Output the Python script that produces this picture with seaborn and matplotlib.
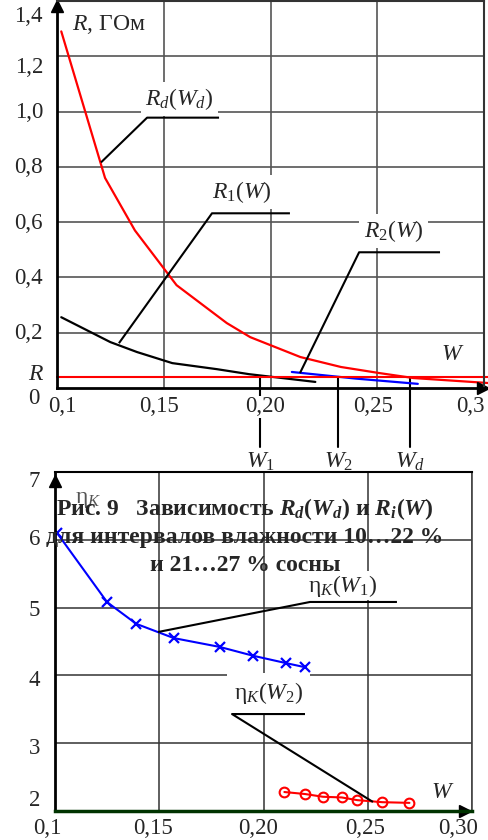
import matplotlib
matplotlib.use("Agg")
import matplotlib.pyplot as plt
import seaborn as sns
import pandas as pd
from matplotlib.transforms import ScaledTranslation

# ---------------- data: top chart (R, GOhm vs W) ----------------
rd_w = [0.102, 0.1225, 0.1365, 0.156, 0.1795, 0.1905, 0.214, 0.233, 0.251, 0.267, 0.302]
rd_r = [1.29, 0.76, 0.57, 0.372, 0.235, 0.184, 0.112, 0.076, 0.054, 0.036, 0.018]
r1_w = [0.102, 0.125, 0.1375, 0.154, 0.175, 0.19, 0.221]
r1_r = [0.256, 0.166, 0.130, 0.090, 0.068, 0.050, 0.022]
r2_w = [0.210, 0.240, 0.269]
r2_r = [0.058, 0.034, 0.015]
r_level = 0.04
w_marks = [0.1953, 0.2317, 0.2655]
w_mark_labels = ["$W_1$", "$W_2$", "$W_d$"]
top_xticks = [0.10, 0.15, 0.20, 0.25, 0.30]
top_xlabels = ["0,1", "0,15", "0,20", "0,25", "0,3"]
top_yticks = [0.2, 0.4, 0.6, 0.8, 1.0, 1.2, 1.4]
top_ylabels = ["0,2", "0,4", "0,6", "0,8", "1,0", "1,2", "1,4"]

# ---------------- data: bottom chart (eta_K vs W) ----------------
eta1_w = [0.101, 0.125, 0.139, 0.157, 0.179, 0.195, 0.211, 0.220]
eta1 = [6.10, 5.08, 4.76, 4.55, 4.42, 4.29, 4.18, 4.12]
eta2_w = [0.210, 0.220, 0.2285, 0.2375, 0.245, 0.257, 0.270]
eta2 = [2.28, 2.25, 2.21, 2.20, 2.16, 2.13, 2.12]
bot_xticks = [0.10, 0.15, 0.20, 0.25, 0.30]
bot_xlabels = ["0,1", "0,15", "0,20", "0,25", "0,30"]
bot_yticks = [2, 3, 4, 5, 6, 7]
bot_ylabels = ["2", "3", "4", "5", "6", "7"]

title_lines = [
    r"Рис. 9   Зависимость $\mathbfit{R}_\mathbfit{d}\mathbf{(}\mathbfit{W}_\mathbfit{d}\mathbf{)}$ и $\mathbfit{R}_\mathbfit{i}\mathbf{(}\mathbfit{W}\mathbf{)}$",
    "для интервалов влажности 10…22 %",
    "и 21…27 % сосны",
]

sns.set_theme(style="white")
plt.rcParams["font.family"] = ["Liberation Serif", "DejaVu Serif"]
plt.rcParams["mathtext.fontset"] = "custom"
plt.rcParams["mathtext.rm"] = "Liberation Serif"
plt.rcParams["mathtext.it"] = "Liberation Serif:italic"
plt.rcParams["mathtext.bf"] = "Liberation Serif:bold"
plt.rcParams["mathtext.bfit"] = "Liberation Serif:italic:bold"

DPI = 100
fig = plt.figure(figsize=(4.88, 8.40), dpi=DPI)
FW, FH = 488.0, 840.0


def off(dx, dy):
    return ScaledTranslation(dx / DPI, -dy / DPI, fig.dpi_scale_trans)


TICK_FS = 16.5
LAB_FS = 17
TITLE_FS = 17

# ================= TOP CHART =================
ax1 = fig.add_axes([57 / FW, 1 - 388 / FH, 427 / FW, 387 / FH])
ax1.set_xlim(0.1, 0.3)
ax1.set_ylim(0, 1.4)
ax1.set_xticks(top_xticks)
ax1.set_yticks(top_yticks)
ax1.tick_params(length=0, labelleft=False, labelbottom=False)
ax1.grid(True, color="#555555", lw=1.2)
ax1.set_axisbelow(True)
for s in ["left", "bottom"]:
    ax1.spines[s].set_color("black")
    ax1.spines[s].set_linewidth(2.0)
for s in ["top", "right"]:
    ax1.spines[s].set_color("#333333")
    ax1.spines[s].set_linewidth(1.5)

df_rd = pd.DataFrame({"W": rd_w, "R": rd_r})
df_r1 = pd.DataFrame({"W": r1_w, "R": r1_r})
df_r2 = pd.DataFrame({"W": r2_w, "R": r2_r})
sns.lineplot(data=df_rd, x="W", y="R", ax=ax1, color="#ff0000", lw=1.6, clip_on=False)
sns.lineplot(data=df_r1, x="W", y="R", ax=ax1, color="black", lw=1.6)
sns.lineplot(data=df_r2, x="W", y="R", ax=ax1, color="#0000ff", lw=1.6)
ax1.plot([0.1, 0.302], [r_level, r_level], color="#ff0000", lw=1.5, clip_on=False)
ax1.set_xlabel("")
ax1.set_ylabel("")

# tick labels
ydy = {1.4: 16, 1.2: 11}
for v, lab in zip(top_yticks, top_ylabels):
    ax1.text(0, v, lab, transform=ax1.get_yaxis_transform() + off(-14, ydy.get(v, 1)),
             ha="right", va="center", fontsize=TICK_FS)
xdx = [5, -5, -5, -4, -14]
for v, lab, dx in zip(top_xticks, top_xlabels, xdx):
    ax1.text(v, 0, lab, transform=ax1.get_xaxis_transform() + off(dx, 19),
             ha="center", va="center", fontsize=TICK_FS,
             bbox=dict(facecolor="white", edgecolor="none", pad=0.5))
ax1.text(0, 0, "$R$", transform=ax1.transAxes + off(-21, -13), ha="center", va="center", fontsize=LAB_FS)
ax1.text(0, 0, "0", transform=ax1.transAxes + off(-23, 10), ha="center", va="center", fontsize=TICK_FS)
ax1.text(0.035, 1, "$R$, ГОм", transform=ax1.transAxes + off(0, 24), ha="left", va="center",
         fontsize=LAB_FS, bbox=dict(facecolor="white", edgecolor="none", pad=2))
ax1.text(1, 0, "$W$", transform=ax1.transAxes + off(-31, -34), ha="center", va="center", fontsize=LAB_FS)

# arrows
ax1.plot([0], [1], marker="^", ms=8, color="black", transform=ax1.transAxes + off(0, 5), clip_on=False)
ax1.plot([1], [0], marker=">", ms=8, color="black", transform=ax1.transAxes + off(-1.5, 0), clip_on=False)

# leader lines + labels
lk = dict(color="black", lw=1.5, clip_on=False, solid_capstyle="butt")
ax1.plot([0.1759, 0.1422, 0.1206], [0.978, 0.978, 0.816], **lk)
ax1.plot([0.2091, 0.1726, 0.129], [0.632, 0.632, 0.162], **lk)
ax1.plot([0.2794, 0.2415, 0.2138], [0.491, 0.491, 0.054], **lk)
bb = dict(facecolor="white", edgecolor="none", pad=3)
ax1.text(0.1575, 1.045, r"$R_d(W_d)$", ha="center", va="center", fontsize=LAB_FS, bbox=bb)
ax1.text(0.1865, 0.71, r"$R_1(W)$", ha="center", va="center", fontsize=LAB_FS, bbox=bb)
ax1.text(0.2576, 0.568, r"$R_2(W)$", ha="center", va="center", fontsize=LAB_FS, bbox=bb)

# W marks below the axis
for w, lab in zip(w_marks, w_mark_labels):
    ax1.plot([w, w], [0.04, -0.213], color="black", lw=1.5, clip_on=False, zorder=1)
    ax1.text(w, -0.267, lab, ha="center", va="center", fontsize=LAB_FS)

# ================= BOTTOM CHART =================
ax2 = fig.add_axes([55 / FW, 1 - 811 / FH, 417 / FW, 339 / FH])
ax2.set_xlim(0.1, 0.3)
ax2.set_ylim(2, 7)
ax2.set_xticks(bot_xticks)
ax2.set_yticks(bot_yticks)
ax2.tick_params(length=0, labelleft=False, labelbottom=False)
ax2.grid(True, color="#333333", lw=1.1)
ax2.set_axisbelow(True)
ax2.spines["left"].set_color("black")
ax2.spines["left"].set_linewidth(2.0)
ax2.spines["bottom"].set_color("#003300")
ax2.spines["bottom"].set_linewidth(2.5)
ax2.spines["top"].set_color("black")
ax2.spines["top"].set_linewidth(1.5)
ax2.spines["right"].set_color("#444444")
ax2.spines["right"].set_linewidth(1.2)

df_e1 = pd.DataFrame({"W": eta1_w, "eta": eta1})
df_e2 = pd.DataFrame({"W": eta2_w, "eta": eta2})
sns.lineplot(data=df_e1, x="W", y="eta", ax=ax2, color="#0000ff", lw=1.5,
             marker="x", ms=7, mew=1.6, mec="#0000ff")
sns.lineplot(data=df_e2, x="W", y="eta", ax=ax2, color="#ff0000", lw=1.5,
             marker="o", ms=7, mew=1.5, mfc="none", mec="#ff0000")
ax2.set_xlabel("")
ax2.set_ylabel("")

ydy2 = {7: 9, 6: 0, 5: 3, 4: 5, 3: 5, 2: -11}
for v, lab in zip(bot_yticks, bot_ylabels):
    ax2.text(0, v, lab, transform=ax2.get_yaxis_transform() + off(-15, ydy2[v]),
             ha="right", va="center", fontsize=TICK_FS)
xdx2 = [-8, -6, -5, -3, -14]
for v, lab, dx in zip(bot_xticks, bot_xlabels, xdx2):
    ax2.text(v, 0, lab, transform=ax2.get_xaxis_transform() + off(dx, 17),
             ha="center", va="center", fontsize=TICK_FS)

ax2.plot([0], [1], marker="^", ms=8, color="black", transform=ax2.transAxes + off(0, 8.5), clip_on=False)
ax2.plot([1], [0], marker=">", ms=8, color="black", transform=ax2.transAxes + off(-7.5, 0), clip_on=False)

ax2.text(1, 0, "$W$", transform=ax2.transAxes + off(-29, -19), ha="center", va="center", fontsize=LAB_FS)
ax2.text(0, 1, r"$\mathrm{η}_K$", transform=ax2.transAxes + off(33, 28), ha="center", va="center",
         fontsize=LAB_FS, color="#555555")

ax2.plot([0.264, 0.2223, 0.1494], [5.083, 5.083, 4.64], **lk)
ax2.plot([0.2199, 0.1849, 0.2525], [3.43, 3.43, 2.133], **lk)
ax2.text(0.2381, 5.32, r"$\mathrm{η}_K(W_1)$", ha="center", va="center", fontsize=LAB_FS,
         bbox=dict(facecolor="white", edgecolor="none", pad=1.0))
ax2.text(0.2025, 3.74, r"$\mathrm{η}_K(W_2)$", ha="center", va="center", fontsize=LAB_FS,
         bbox=dict(facecolor="white", edgecolor="none", pad=5))

# caption overlaid on the bottom chart
baselines = [515, 543, 571]
for txt, yb in zip(title_lines, baselines):
    fig.text(245 / FW, 1 - yb / FH, txt, ha="center", va="baseline", fontsize=TITLE_FS,
             fontweight="bold", zorder=10)

fig.savefig("out.png", dpi=DPI, facecolor="white")
